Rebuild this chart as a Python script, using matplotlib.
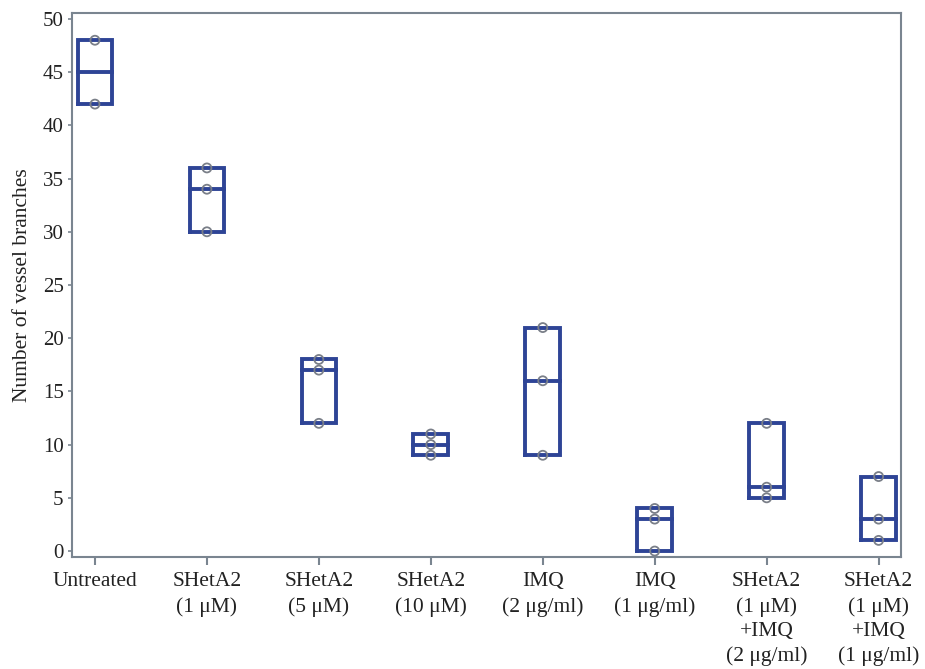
import matplotlib
matplotlib.use("Agg")
import matplotlib.pyplot as plt
import numpy as np

categories = ["Untreated", "SHetA2\n(1 \u03bcM)", "SHetA2\n(5 \u03bcM)", "SHetA2\n(10 \u03bcM)",
              "IMQ\n(2 \u03bcg/ml)", "IMQ\n(1 \u03bcg/ml)", "SHetA2\n(1 \u03bcM)\n+IMQ\n(2 \u03bcg/ml)",
              "SHetA2\n(1 \u03bcM)\n+IMQ\n(1 \u03bcg/ml)"]
values = [
    [42, 48],
    [30, 34, 36],
    [12, 17, 18],
    [9, 10, 11],
    [9, 16, 21],
    [0, 3, 4],
    [5, 6, 12],
    [1, 3, 7],
]
yticks = [0, 5, 10, 15, 20, 25, 30, 35, 40, 45, 50]

plt.rcParams['font.family'] = ['Liberation Serif', 'DejaVu Serif']
fig = plt.figure(figsize=(9.25, 6.69), dpi=100)
ax = fig.add_axes([72/925, 1-557/669, (901-72)/925, (557-13)/669])

box_color = '#2e4496'
bw = 0.31
for i, v in enumerate(values):
    v = np.array(v, dtype=float)
    lo, hi, med = v.min(), v.max(), np.median(v)
    ax.plot([i-bw/2, i+bw/2, i+bw/2, i-bw/2, i-bw/2], [lo, lo, hi, hi, lo],
            color=box_color, lw=2.8, solid_joinstyle='miter', zorder=2)
    ax.plot([i-bw/2, i+bw/2], [med, med], color=box_color, lw=2.8, zorder=2)
    ax.scatter(np.full(len(v), i), v, s=42, facecolors='none', edgecolors='#7a7f88',
               linewidths=1.3, zorder=3)

ax.set_xlim(-0.205, 7.2)
ax.set_ylim(-0.56, 50.56)
ax.set_yticks(yticks)
ax.set_xticks(range(len(categories)))
ax.set_xticklabels(categories, fontsize=15.5, linespacing=1.38, va='top', color='#222222')
ax.tick_params(axis='y', labelsize=15, length=3, width=1.2, color='#7a8590', pad=3,
               labelcolor='#222222')
ax.tick_params(axis='x', length=6, width=1.5, color='#7a8590', pad=5)
for s in ax.spines.values():
    s.set_color('#7a8590')
    s.set_linewidth(1.5)
ax.set_ylabel("Number of vessel branches", fontsize=15.5, labelpad=8, color='#222222')
fig.savefig("out.png", dpi=100)
